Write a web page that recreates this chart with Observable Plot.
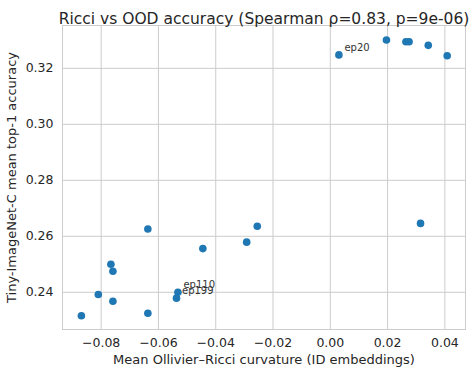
<!DOCTYPE html>
<html>
<head>
<meta charset="utf-8">
<script src="https://cdn.jsdelivr.net/npm/d3@7"></script>
<script src="https://cdn.jsdelivr.net/npm/@observablehq/plot@0.6"></script>
<style>
  html, body { margin: 0; padding: 0; background: #fff; }
  #chart svg { display: block; }
</style>
</head>
<body>
<div id="chart"></div>
<script>
const curvature = [-0.0869, -0.0810, -0.0759, -0.0766, -0.0759, -0.0637, -0.0637, -0.0532, -0.0537, -0.0445, -0.0292, -0.0255, 0.0030, 0.0196, 0.0264, 0.0275, 0.0342, 0.0408, 0.0315];
const accuracy  = [0.2316, 0.2392, 0.2368, 0.2500, 0.2475, 0.2626, 0.2325, 0.2400, 0.2379, 0.2556, 0.2579, 0.2636, 0.3248, 0.3301, 0.3295, 0.3295, 0.3282, 0.3245, 0.2646];
const labels    = ["", "", "", "", "", "", "", "ep110", "ep199", "", "", "", "ep20", "", "", "", "", "", ""];
const xTicks = [-0.08, -0.06, -0.04, -0.02, 0.00, 0.02, 0.04];
const yTicks = [0.24, 0.26, 0.28, 0.30, 0.32];
const titleText = "Ricci vs OOD accuracy (Spearman ρ=0.83, p=9e-06)";
const xLabel = "Mean Ollivier–Ricci curvature (ID embeddings)";
const yLabel = "Tiny-ImageNet-C mean top-1 accuracy";

const data = curvature.map((c, i) => ({x: c, y: accuracy[i], label: labels[i]}));
const labeled = data.filter(d => d.label);

const chart = Plot.plot({
  width: 476,
  height: 378,
  marginLeft: 62,
  marginRight: 11,
  marginTop: 25,
  marginBottom: 49,
  style: {fontFamily: "DejaVu Sans", fontSize: "12px", color: "#262626", background: "#fff"},
  x: {domain: [-0.0935, 0.0472]},
  y: {domain: [0.2267, 0.3353]},
  marks: [
    Plot.gridX(xTicks, {stroke: "#cccccc", strokeOpacity: 1, strokeWidth: 1}),
    Plot.gridY(yTicks, {stroke: "#cccccc", strokeOpacity: 1, strokeWidth: 1}),
    Plot.frame({stroke: "#cccccc", strokeWidth: 1}),
    Plot.axisX(xTicks, {tickSize: 0, tickPadding: 9, tickFormat: d3.format(".2f"), fontSize: 12.5, label: null}),
    Plot.axisY(yTicks, {tickSize: 0, tickPadding: 9, tickFormat: d3.format(".2f"), fontSize: 12.5, label: null}),
    Plot.text([xLabel], {frameAnchor: "bottom", dy: 34, fontSize: 13, fill: "#262626"}),
    Plot.text([yLabel], {frameAnchor: "left", textAnchor: "middle", dx: -51, rotate: -90, fontSize: 13, fill: "#262626"}),
    Plot.dot(data, {x: "x", y: "y", r: 3.8, fill: "#1f77b4", stroke: "none"}),
    Plot.text(labeled, {x: "x", y: "y", text: "label", dx: 5.5, dy: -7, textAnchor: "start", fontSize: 10, fill: "#333333"}),
    Plot.text([titleText], {frameAnchor: "top", dy: -13, fontSize: 15.5, fill: "#262626"})
  ]
});
document.getElementById("chart").appendChild(chart);
</script>
</body>
</html>
